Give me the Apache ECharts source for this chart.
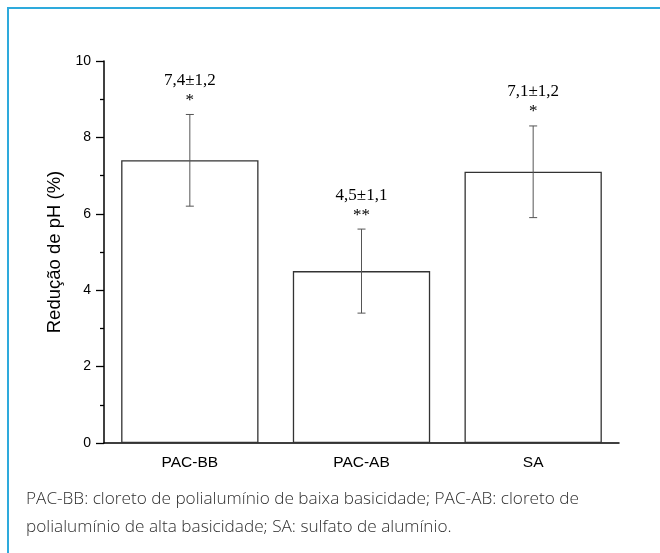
<!DOCTYPE html>
<html>
<head>
<meta charset="utf-8">
<script src="https://cdn.jsdelivr.net/npm/echarts@6/dist/echarts.min.js"></script>
<style>
  html, body { margin: 0; padding: 0; background: #fff; }
  #chart { width: 660px; height: 553px; }
</style>
</head>
<body>
<div id="chart"></div>
<script>
// Redução de pH por coagulante (média ± desvio padrão)
const categories = ['PAC-BB', 'PAC-AB', 'SA'];
const means = [7.4, 4.5, 7.1];
const deviations = [1.2, 1.1, 1.2];
const significance = ['*', '**', '*'];
const yTicks = { min: 0, max: 10, interval: 2 };
const caption = [
  'PAC-BB: cloreto de polialumínio de baixa basicidade; PAC-AB: cloreto de',
  'polialumínio de alta basicidade; SA: sulfato de alumínio.'
];

const fmt = v => v.toFixed(1).replace('.', ',');

const errorData = categories.map((c, i) => [i, means[i], deviations[i]]);

const chart = echarts.init(document.getElementById('chart'), null, { renderer: 'canvas' });

chart.setOption({
  animation: false,
  backgroundColor: '#fff',
  grid: { left: 104, right: 41, top: 61, bottom: 110 },
  xAxis: [
    {
      type: 'category',
      data: categories,
      axisLine: { lineStyle: { color: '#000', width: 1.5 } },
      axisTick: { alignWithLabel: true, length: 8, lineStyle: { color: '#000', width: 1.3 } },
      axisLabel: { color: '#000', fontFamily: 'Arial, "Liberation Sans", sans-serif', fontSize: 15.5, margin: 12 }
    },
    {
      type: 'category',
      data: categories,
      position: 'bottom',
      axisLine: { show: false },
      axisTick: { length: 4, lineStyle: { color: '#000', width: 1.3 } },
      axisLabel: { show: false }
    }
  ],
  yAxis: {
    type: 'value',
    min: yTicks.min,
    max: yTicks.max,
    interval: yTicks.interval,
    name: 'Redução de pH (%)',
    nameLocation: 'middle',
    nameGap: 37,
    nameTextStyle: { color: '#000', fontFamily: 'Arial, "Liberation Sans", sans-serif', fontSize: 18.5 },
    axisLine: { show: true, lineStyle: { color: '#000', width: 1.5 } },
    axisTick: { show: true, length: 8, lineStyle: { color: '#000', width: 1.3 } },
    minorTick: { show: true, splitNumber: 2, length: 4, lineStyle: { color: '#000', width: 1.3 } },
    splitLine: { show: false },
    axisLabel: { color: '#000', fontFamily: 'Arial, "Liberation Sans", sans-serif', fontSize: 14, margin: 13 }
  },
  graphic: [
    { type: 'line', shape: { x1: 7, y1: 8, x2: 660, y2: 8 }, style: { stroke: '#2eaadc', lineWidth: 2 } },
    { type: 'line', shape: { x1: 8, y1: 7, x2: 8, y2: 553 }, style: { stroke: '#2eaadc', lineWidth: 2 } },
    {
      type: 'text', left: 26, top: 485,
      style: {
        text: caption.join('\n'), fill: '#2e2e2e', lineHeight: 28,
        font: '300 17.2px "Open Sans", Lato, sans-serif'
      }
    }
  ],
  series: [
    {
      type: 'bar',
      data: means,
      barWidth: '80%',
      itemStyle: { color: '#fff', borderColor: '#333', borderWidth: 1.3 }
    },
    {
      type: 'custom',
      data: errorData,
      z: 5,
      renderItem: function (params, api) {
        const i = api.value(0);
        const m = api.value(1);
        const e = api.value(2);
        const top = api.coord([i, m + e]);
        const bot = api.coord([i, m - e]);
        const cap = 4;
        const ls = { stroke: '#555', lineWidth: 1 };
        return {
          type: 'group',
          children: [
            { type: 'line', shape: { x1: top[0], y1: top[1], x2: bot[0], y2: bot[1] }, style: ls },
            { type: 'line', shape: { x1: top[0] - cap, y1: top[1], x2: top[0] + cap, y2: top[1] }, style: ls },
            { type: 'line', shape: { x1: bot[0] - cap, y1: bot[1], x2: bot[0] + cap, y2: bot[1] }, style: ls },
            {
              type: 'text',
              style: {
                x: top[0], y: top[1] - 14, text: significance[params.dataIndex],
                align: 'center', verticalAlign: 'middle', fill: '#000',
                font: '17px "Times New Roman", "Liberation Serif", serif'
              }
            },
            {
              type: 'text',
              style: {
                x: top[0], y: top[1] - 34, text: fmt(m) + '±' + fmt(e),
                align: 'center', verticalAlign: 'middle', fill: '#000',
                font: '17px "Times New Roman", "Liberation Serif", serif'
              }
            }
          ]
        };
      }
    }
  ]
});
</script>
</body>
</html>
